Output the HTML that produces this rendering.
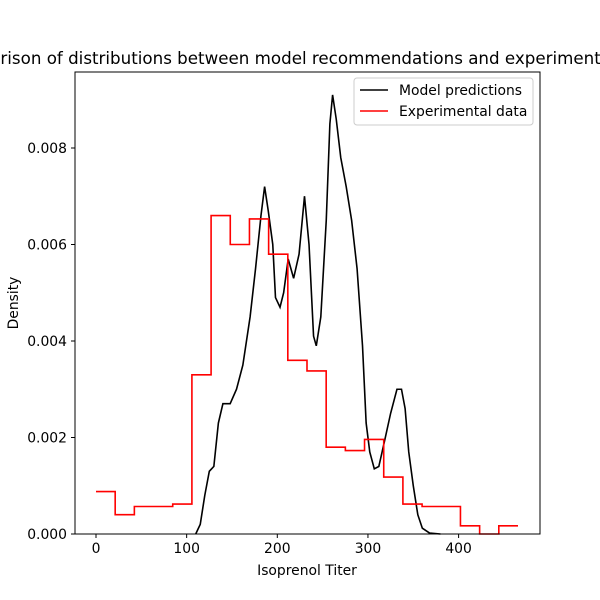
<!DOCTYPE html>
<html><head><meta charset="utf-8"><style>body{margin:0;background:#fff}svg{display:block;font-family:"DejaVu Sans","Liberation Sans",sans-serif}</style></head>
<body>
<svg id="chart" width="600" height="600">
<text x="300" y="64" text-anchor="middle" font-size="16.7">Comparison of distributions between model recommendations and experimental data</text>
<g id="plot"></g>
<rect x="75" y="72" width="465" height="462" fill="none" stroke="#000" stroke-width="1"/>
<g id="axes"></g>
<text x="307" y="575" text-anchor="middle" font-size="13.9">Isoprenol Titer</text>
<text transform="translate(18,303) rotate(-90)" text-anchor="middle" font-size="13.9">Density</text>
<g>
<rect x="354" y="78" width="179" height="47" rx="3" fill="#fff" fill-opacity="0.8" stroke="#ccc"/>
<line x1="360" y1="90" x2="388" y2="90" stroke="#000" stroke-width="1.6"/>
<text x="399" y="95" font-size="13.9">Model predictions</text>
<line x1="360" y1="111" x2="388" y2="111" stroke="red" stroke-width="1.6"/>
<text x="399" y="116" font-size="13.9">Experimental data</text>
</g>
</svg>
<script>
const binStart = 0;
const binWidth = 21.16;
const expDensity = [0.00088,0.0004,0.00057,0.00057,0.00062,0.0033,0.0066,0.006,0.00653,0.0058,0.0036,0.00338,0.0018,0.00173,0.00196,0.00118,0.00062,0.00057,0.00057,0.00017,0,0.00017];
const modelX = [110,115,120,125,130,135,140,148,155,162,170,176,182,186,190,195,198,203,207,212,218,224,230,235,240,243,248,254,258,261,265,270,276,282,288,294,298,302,307,312,318,325,332,337,341,345,350,355,360,368,380];
const modelY = [0,0.0002,0.0008,0.0013,0.0014,0.0023,0.0027,0.0027,0.003,0.0035,0.0045,0.0055,0.0066,0.0072,0.0067,0.006,0.0049,0.0047,0.005,0.0057,0.0053,0.0058,0.007,0.006,0.0041,0.0039,0.0045,0.0065,0.0085,0.0091,0.0086,0.0078,0.0072,0.0065,0.0055,0.0039,0.0023,0.0017,0.00135,0.0014,0.0019,0.0025,0.003,0.003,0.0026,0.0017,0.001,0.0004,0.00012,0.00002,0];
const xTicks = [0,100,200,300,400];
const yTicks = [0,0.002,0.004,0.006,0.008];
const yTickLabels = ["0.000","0.002","0.004","0.006","0.008"];

const NS="http://www.w3.org/2000/svg";
const sx = v => 96 + v*0.9065;
const sy = v => 534 - v*48250;
const plot=document.getElementById('plot'), axes=document.getElementById('axes');
function mk(tag,attrs,parent){const e=document.createElementNS(NS,tag);for(const k in attrs)e.setAttribute(k,attrs[k]);parent.appendChild(e);return e;}

let d='M'+sx(modelX[0])+','+sy(modelY[0]);
for(let i=1;i<modelX.length;i++) d+=' L'+sx(modelX[i])+','+sy(modelY[i]);
const ml=mk('path',{d:d,fill:'none',stroke:'#000','stroke-width':1.6},plot);



let h='';
expDensity.forEach((v,i)=>{const x0=sx(binStart+i*binWidth),x1=sx(binStart+(i+1)*binWidth);h+=(i?' L':'M')+x0+','+sy(v)+' L'+x1+','+sy(v);});
const el=mk('path',{d:h,fill:'none',stroke:'red','stroke-width':1.6},plot);



xTicks.forEach(t=>{const x=sx(t);
 const l=mk('line',{x1:x,x2:x,y1:534,y2:538,stroke:'#000'},axes);
 
 
 const tx=mk('text',{x:x,y:553,'text-anchor':'middle','font-size':13.9},axes);tx.textContent=t;
 
 
});
yTicks.forEach((t,i)=>{const y=sy(t);
 const l=mk('line',{x1:71,x2:75,y1:y,y2:y,stroke:'#000'},axes);
 
 
 const tx=mk('text',{x:67,y:y+5,'text-anchor':'end','font-size':13.9},axes);tx.textContent=yTickLabels[i];
 
 
});
</script>
</body></html>
